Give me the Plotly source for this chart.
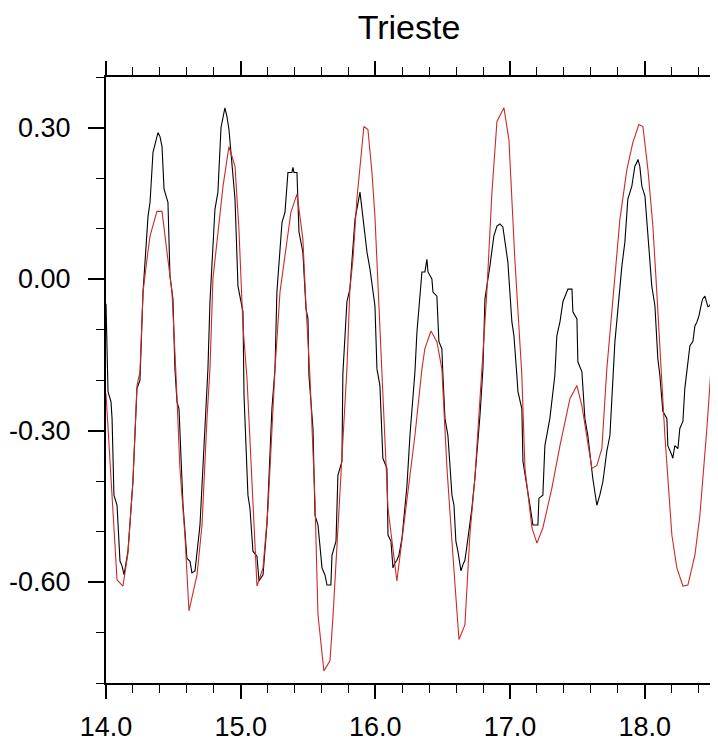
import plotly.graph_objects as go

# black line (observed)
obs_x = [14.000, 14.007, 14.015, 14.037, 14.045, 14.059, 14.082, 14.104, 14.119, 14.134,
         14.163, 14.200, 14.230, 14.252, 14.275, 14.312, 14.327, 14.349, 14.371, 14.386,
         14.401, 14.416, 14.431, 14.460, 14.475, 14.497, 14.512, 14.527, 14.542, 14.572,
         14.601, 14.624, 14.638, 14.661, 14.698, 14.735, 14.757, 14.772, 14.809, 14.831,
         14.854, 14.883, 14.898, 14.913, 14.943, 14.958, 14.980, 15.017, 15.025, 15.054,
         15.069, 15.091, 15.121, 15.136, 15.166, 15.195, 15.232, 15.255, 15.269, 15.307,
         15.329, 15.351, 15.381, 15.388, 15.396, 15.418, 15.433, 15.462, 15.485, 15.500,
         15.507, 15.537, 15.552, 15.574, 15.604, 15.626, 15.641, 15.670, 15.678, 15.708,
         15.722, 15.752, 15.759, 15.789, 15.811, 15.849, 15.886, 15.901, 15.923, 15.938,
         15.960, 15.982, 15.997, 16.012, 16.034, 16.056, 16.086, 16.094, 16.116, 16.131,
         16.146, 16.160, 16.175, 16.198, 16.235, 16.257, 16.294, 16.309, 16.346, 16.368,
         16.383, 16.391, 16.420, 16.428, 16.457, 16.472, 16.494, 16.502, 16.517, 16.539,
         16.569, 16.584, 16.598, 16.613, 16.636, 16.650, 16.665, 16.680, 16.717, 16.739,
         16.777, 16.799, 16.814, 16.851, 16.880, 16.903, 16.925, 16.947, 16.970, 16.984,
         17.014, 17.029, 17.051, 17.059, 17.088, 17.096, 17.148, 17.170, 17.207, 17.215,
         17.244, 17.259, 17.296, 17.318, 17.333, 17.348, 17.371, 17.393, 17.423, 17.430,
         17.460, 17.467, 17.497, 17.504, 17.534, 17.556, 17.578, 17.615, 17.645, 17.667,
         17.690, 17.719, 17.742, 17.764, 17.779, 17.831, 17.853, 17.875, 17.905, 17.912,
         17.927, 17.942, 17.950, 17.964, 17.979, 18.002, 18.024, 18.053, 18.076, 18.098,
         18.113, 18.135, 18.165, 18.172, 18.202, 18.209, 18.224, 18.247, 18.261, 18.284,
         18.298, 18.321, 18.336, 18.358, 18.373, 18.388, 18.403, 18.425, 18.432, 18.447,
         18.462, 18.470, 18.484, 18.500]
obs_y = [-0.049, -0.158, -0.223, -0.243, -0.276, -0.428, -0.448, -0.559, -0.568, -0.586,
         -0.539, -0.401, -0.217, -0.201, -0.026, 0.124, 0.152, 0.251, 0.276, 0.290,
         0.282, 0.262, 0.178, 0.152, 0.006, -0.039, -0.178, -0.243, -0.257, -0.448,
         -0.553, -0.559, -0.582, -0.578, -0.487, -0.276, -0.178, -0.045, 0.138, 0.172,
         0.300, 0.339, 0.322, 0.296, 0.191, 0.158, -0.014, -0.065, -0.231, -0.428,
         -0.454, -0.539, -0.549, -0.598, -0.586, -0.487, -0.257, -0.178, -0.026, 0.112,
         0.132, 0.211, 0.211, 0.221, 0.211, 0.211, 0.093, 0.053, -0.059, -0.079,
         -0.191, -0.296, -0.468, -0.487, -0.572, -0.586, -0.606, -0.606, -0.547, -0.519,
         -0.389, -0.361, -0.187, -0.045, -0.020, 0.118, 0.172, 0.138, 0.079, 0.053,
         0.020, -0.020, -0.053, -0.178, -0.211, -0.355, -0.375, -0.507, -0.519, -0.572,
         -0.562, -0.557, -0.547, -0.513, -0.409, -0.310, -0.184, -0.105, 0.014, 0.014,
         0.039, 0.014, 0.000, -0.026, -0.034, -0.124, -0.138, -0.191, -0.276, -0.310,
         -0.428, -0.448, -0.519, -0.539, -0.578, -0.566, -0.557, -0.529, -0.454, -0.395,
         -0.270, -0.178, -0.039, 0.026, 0.085, 0.105, 0.109, 0.103, 0.059, 0.034,
         -0.085, -0.112, -0.191, -0.223, -0.257, -0.361, -0.448, -0.487, -0.487, -0.434,
         -0.428, -0.330, -0.276, -0.223, -0.191, -0.112, -0.085, -0.045, -0.026, -0.020,
         -0.020, -0.065, -0.079, -0.164, -0.184, -0.276, -0.310, -0.395, -0.448, -0.428,
         -0.401, -0.341, -0.310, -0.203, -0.124, 0.026, 0.073, 0.158, 0.184, 0.197,
         0.223, 0.231, 0.237, 0.223, 0.184, 0.164, 0.093, -0.014, -0.053, -0.158,
         -0.191, -0.262, -0.276, -0.330, -0.349, -0.355, -0.330, -0.336, -0.296, -0.282,
         -0.217, -0.164, -0.132, -0.124, -0.093, -0.085, -0.073, -0.045, -0.039, -0.034,
         -0.049, -0.055, -0.053, -0.039]

# red line (model)
mod_x = [14.000, 14.045, 14.082, 14.126, 14.163, 14.200, 14.230, 14.252, 14.275, 14.304,
         14.327, 14.378, 14.416, 14.453, 14.490, 14.520, 14.549, 14.586, 14.616, 14.676,
         14.713, 14.750, 14.772, 14.794, 14.869, 14.913, 14.958, 14.987, 15.017, 15.047,
         15.121, 15.166, 15.203, 15.255, 15.292, 15.373, 15.418, 15.440, 15.462, 15.485,
         15.514, 15.552, 15.574, 15.618, 15.663, 15.685, 15.752, 15.789, 15.811, 15.834,
         15.863, 15.915, 15.945, 15.975, 15.997, 16.049, 16.094, 16.160, 16.235, 16.294,
         16.346, 16.368, 16.413, 16.457, 16.494, 16.532, 16.576, 16.621, 16.665, 16.702,
         16.739, 16.791, 16.828, 16.866, 16.903, 16.955, 16.992, 17.036, 17.088, 17.111,
         17.163, 17.200, 17.244, 17.311, 17.371, 17.445, 17.497, 17.534, 17.571, 17.608,
         17.645, 17.682, 17.719, 17.764, 17.816, 17.868, 17.912, 17.957, 17.987, 18.024,
         18.061, 18.090, 18.128, 18.150, 18.202, 18.239, 18.284, 18.321, 18.373, 18.410,
         18.462, 18.500]
mod_y = [-0.227, -0.440, -0.596, -0.608, -0.543, -0.401, -0.211, -0.184, -0.026, 0.039,
         0.085, 0.134, 0.134, 0.053, -0.026, -0.191, -0.375, -0.507, -0.657, -0.586,
         -0.487, -0.276, -0.178, 0.000, 0.184, 0.262, 0.223, 0.099, -0.093, -0.197,
         -0.608, -0.572, -0.454, -0.178, -0.026, 0.132, 0.168, 0.124, 0.079, -0.053,
         -0.191, -0.440, -0.665, -0.776, -0.756, -0.671, -0.349, -0.178, -0.020, 0.039,
         0.158, 0.302, 0.296, 0.211, 0.124, -0.191, -0.454, -0.598, -0.440, -0.310,
         -0.178, -0.138, -0.103, -0.124, -0.178, -0.375, -0.547, -0.714, -0.685, -0.507,
         -0.395, -0.178, -0.026, 0.172, 0.312, 0.339, 0.276, 0.039, -0.191, -0.375,
         -0.493, -0.523, -0.493, -0.414, -0.330, -0.237, -0.211, -0.251, -0.310, -0.375,
         -0.369, -0.336, -0.178, -0.039, 0.118, 0.217, 0.270, 0.306, 0.302, 0.217,
         0.105, -0.026, -0.191, -0.310, -0.507, -0.572, -0.608, -0.606, -0.547, -0.468,
         -0.296, -0.148]

x_ticks = [14.0, 15.0, 16.0, 17.0, 18.0]
x_labels = ["14.0", "15.0", "16.0", "17.0", "18.0"]
y_ticks = [0.3, 0.0, -0.3, -0.6]
y_labels = ["0.30", "0.00", "-0.30", "-0.60"]

fig = go.Figure()
fig.add_trace(go.Scatter(x=obs_x, y=obs_y, mode="lines",
                         line=dict(color="black", width=1.1), showlegend=False))
fig.add_trace(go.Scatter(x=mod_x, y=mod_y, mode="lines",
                         line=dict(color="#cc2a2a", width=1.1), showlegend=False))

font = dict(family="Liberation Sans, Arial, sans-serif", size=27, color="black")

# the page body adds an 8px margin, so the figure is sized to fit inside it
fig.update_layout(
    width=710, height=734,
    margin=dict(l=98, r=6, t=69, b=59, autoexpand=False),
    paper_bgcolor="white", plot_bgcolor="white",
    font=font,
    title=dict(text="Trieste", x=401 / 710, xref="container", xanchor="center",
               y=1 - 19 / 734, yref="container", yanchor="middle",
               font=dict(family="Liberation Sans, Arial, sans-serif", size=34, color="black")),
    xaxis=dict(range=[14, 18.5], tickvals=x_ticks, ticktext=x_labels, automargin=False,
               ticks="outside", ticklen=14, tickwidth=1.5, tickcolor="black",
               showline=True, linecolor="black", linewidth=2, mirror="ticks",
               showgrid=False, zeroline=False, ticklabelstandoff=5,
               minor=dict(ticks="outside", ticklen=8, tickwidth=1, tickcolor="black",
                          dtick=0.2, tick0=14, showgrid=False)),
    yaxis=dict(range=[-0.8, 0.4], tickvals=y_ticks, ticktext=y_labels, automargin=False,
               ticks="outside", ticklen=16, tickwidth=1.5, tickcolor="black",
               showline=True, linecolor="black", linewidth=2, mirror=True,
               showgrid=False, zeroline=False, ticklabelstandoff=12,
               minor=dict(ticks="outside", ticklen=8, tickwidth=1, tickcolor="black",
                          dtick=0.1, tick0=0, showgrid=False)),
    yaxis2=dict(range=[-0.8, 0.4], overlaying="y", side="right", tickvals=y_ticks,
                showticklabels=False, ticks="inside", ticklen=10, tickwidth=1.5,
                tickcolor="black", showgrid=False, zeroline=False, showline=False,
                automargin=False,
                minor=dict(ticks="inside", ticklen=7, tickwidth=1, tickcolor="black",
                           dtick=0.1, tick0=0, showgrid=False)),
)

fig.write_html("out.html")
